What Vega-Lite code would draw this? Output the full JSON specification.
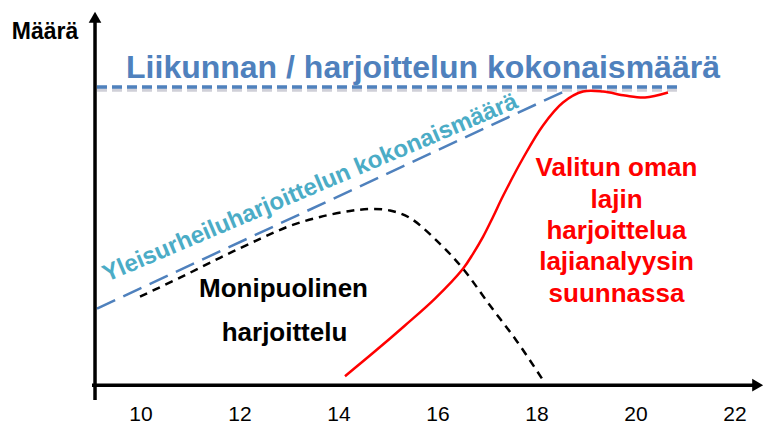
{
  "$schema": "https://vega.github.io/schema/vega-lite/v6.json",
  "width": 765,
  "height": 425,
  "padding": 0,
  "autosize": {"type": "fit", "contains": "padding"},
  "config": {"view": {"stroke": null}, "font": "Liberation Sans"},
  "datasets": {
    "axes": [
      {"axis": "v", "x": 9.071, "y": -4},
      {"axis": "v", "x": 9.071, "y": 97.8},
      {"axis": "h", "x": 9.01, "y": 0},
      {"axis": "h", "x": 22.44, "y": 0}
    ],
    "arrows": [
      {"shape": "triangle-up", "x": 9.071, "y": 98.6},
      {"shape": "triangle-right", "x": 22.458, "y": 0}
    ],
    "total": [
      {"x": 9.111, "y": 79.87},
      {"x": 20.889, "y": 79.87}
    ],
    "general": [
      {"x": 9.111, "y": 20.53},
      {"x": 18.626, "y": 79.2}
    ],
    "versatile": [
      {"x": 9.98, "y": 23.73},
      {"x": 10.788, "y": 28.8},
      {"x": 11.596, "y": 34.13},
      {"x": 12.404, "y": 39.2},
      {"x": 13.01, "y": 42.67},
      {"x": 13.616, "y": 45.07},
      {"x": 14.222, "y": 46.67},
      {"x": 14.626, "y": 47.2},
      {"x": 15.03, "y": 46.8},
      {"x": 15.434, "y": 44.8},
      {"x": 16.04, "y": 37.87},
      {"x": 16.505, "y": 31.2},
      {"x": 17.051, "y": 21.33},
      {"x": 17.596, "y": 11.73},
      {"x": 18.162, "y": 0.53}
    ],
    "specific": [
      {"x": 14.121, "y": 2.4},
      {"x": 14.727, "y": 9.07},
      {"x": 15.333, "y": 16.0},
      {"x": 15.939, "y": 23.2},
      {"x": 16.505, "y": 31.2},
      {"x": 16.707, "y": 35.2},
      {"x": 16.909, "y": 39.73},
      {"x": 17.111, "y": 45.07},
      {"x": 17.313, "y": 50.67},
      {"x": 17.717, "y": 60.8},
      {"x": 18.121, "y": 69.6},
      {"x": 18.525, "y": 75.73},
      {"x": 18.929, "y": 78.67},
      {"x": 19.333, "y": 78.67},
      {"x": 19.778, "y": 77.6},
      {"x": 20.182, "y": 77.07},
      {"x": 20.646, "y": 78.4}
    ],
    "ticks": [
      {"x": 10, "y": -9.52, "label": "10"},
      {"x": 12, "y": -9.52, "label": "12"},
      {"x": 14, "y": -9.52, "label": "14"},
      {"x": 16, "y": -9.52, "label": "16"},
      {"x": 18, "y": -9.52, "label": "18"},
      {"x": 20, "y": -9.52, "label": "20"},
      {"x": 22, "y": -9.52, "label": "22"}
    ],
    "redtext": [
      {"x": 19.606, "y": 56.0, "label": "Valitun oman"},
      {"x": 19.606, "y": 47.6, "label": "lajin"},
      {"x": 19.606, "y": 39.2, "label": "harjoittelua"},
      {"x": 19.606, "y": 30.8, "label": "lajianalyysin"},
      {"x": 19.606, "y": 22.4, "label": "suunnassa"}
    ],
    "blacktext": [
      {"x": 12.879, "y": 23.73, "label": "Monipuolinen"},
      {"x": 12.899, "y": 11.73, "label": "harjoittelu"}
    ],
    "ylabel": [
      {"x": 8.061, "y": 92.7, "label": "Määrä"}
    ],
    "title": [
      {"x": 15.697, "y": 82.4, "label": "Liikunnan / harjoittelun kokonaismäärä"}
    ],
    "diagtext": [
      {"x": 13.475, "y": 51.07, "label": "Yleisurheiluharjoittelun kokonaismäärä"}
    ]
  },
  "encoding": {
    "x": {"field": "x", "type": "quantitative", "scale": {"domain": [7.1515, 22.606], "nice": false, "zero": false}, "axis": null},
    "y": {"field": "y", "type": "quantitative", "scale": {"domain": [-10.133, 103.2], "nice": false, "zero": false}, "axis": null}
  },
  "layer": [
    {
      "data": {"name": "total"},
      "mark": {"type": "line", "color": "#d0d0d8", "strokeWidth": 3.5, "strokeDash": [10, 5], "yOffset": 3},
      "encoding": {}
    },
    {
      "data": {"name": "total"},
      "mark": {"type": "line", "color": "#4F81BD", "strokeWidth": 3.5, "strokeDash": [10, 5]},
      "encoding": {}
    },
    {
      "data": {"name": "general"},
      "mark": {"type": "line", "color": "#4F81BD", "strokeWidth": 2.5, "strokeDash": [20, 9]},
      "encoding": {}
    },
    {
      "data": {"name": "versatile"},
      "mark": {"type": "line", "color": "#000000", "strokeWidth": 2.5, "strokeDash": [8, 6], "interpolate": "catmull-rom"},
      "encoding": {}
    },
    {
      "data": {"name": "specific"},
      "mark": {"type": "line", "color": "#FF0000", "strokeWidth": 2.5, "interpolate": "catmull-rom"},
      "encoding": {}
    },
    {
      "data": {"name": "axes"},
      "mark": {"type": "line", "color": "#000000", "strokeWidth": 3.5, "strokeCap": "butt"},
      "encoding": {"detail": {"field": "axis", "type": "nominal"}}
    },
    {
      "data": {"name": "arrows"},
      "mark": {"type": "point", "filled": true, "color": "#000000", "opacity": 1, "size": 160},
      "encoding": {"shape": {"field": "shape", "type": "nominal", "scale": null}}
    },
    {
      "data": {"name": "ticks"},
      "mark": {"type": "text", "fontSize": 21, "color": "#000000", "align": "center", "baseline": "alphabetic"},
      "encoding": {"text": {"field": "label"}}
    },
    {
      "data": {"name": "ylabel"},
      "mark": {"type": "text", "fontSize": 23, "fontWeight": "bold", "color": "#000000", "align": "center", "baseline": "alphabetic"},
      "encoding": {"text": {"field": "label"}}
    },
    {
      "data": {"name": "title"},
      "mark": {"type": "text", "fontSize": 32, "fontWeight": "bold", "color": "#4F81BD", "align": "center", "baseline": "alphabetic"},
      "encoding": {"text": {"field": "label"}}
    },
    {
      "data": {"name": "diagtext"},
      "mark": {"type": "text", "fontSize": 24, "fontWeight": "bold", "color": "#4BACC6", "align": "center", "baseline": "alphabetic", "angle": -23},
      "encoding": {"text": {"field": "label"}}
    },
    {
      "data": {"name": "blacktext"},
      "mark": {"type": "text", "fontSize": 26, "fontWeight": "bold", "color": "#000000", "align": "center", "baseline": "alphabetic"},
      "encoding": {"text": {"field": "label"}}
    },
    {
      "data": {"name": "redtext"},
      "mark": {"type": "text", "fontSize": 26, "fontWeight": "bold", "color": "#FF0000", "align": "center", "baseline": "alphabetic"},
      "encoding": {"text": {"field": "label"}}
    }
  ]
}
